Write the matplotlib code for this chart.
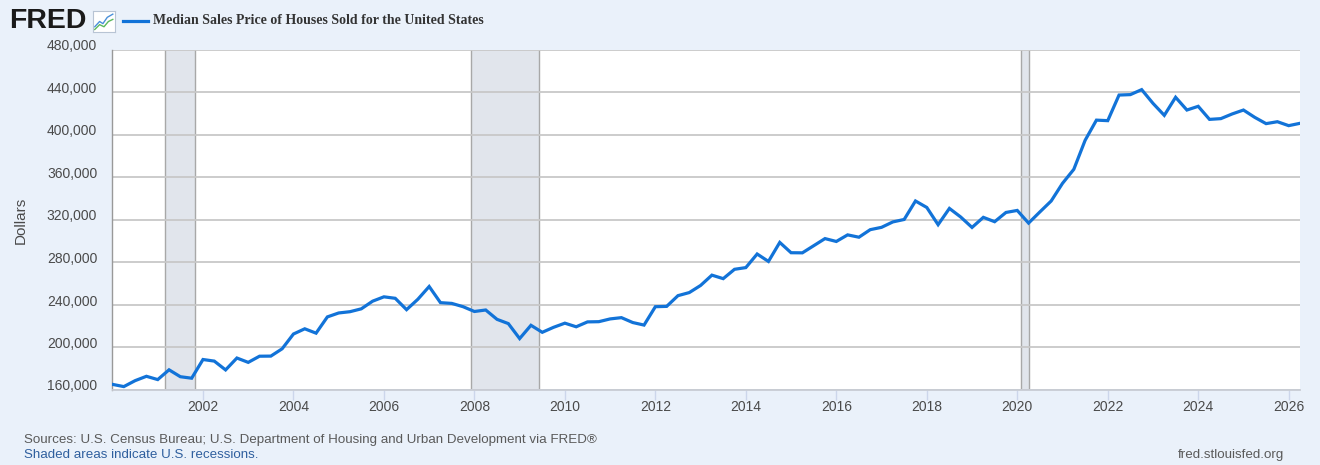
import matplotlib
matplotlib.use("Agg")
import matplotlib.pyplot as plt
import matplotlib.transforms as mtransforms
from matplotlib.lines import Line2D
import numpy as np

# ---------------- data ----------------
start_year = 2000
values = [
    165300, 163200, 168800, 172900,   # 2000
    169800, 179000, 172500, 171100,   # 2001
    188700, 187200, 178900, 190100,   # 2002
    186000, 191800, 191900, 198800,   # 2003
    212700, 217600, 213500, 228800,   # 2004
    232500, 233700, 236400, 243600,   # 2005
    247700, 246300, 235600, 245400,   # 2006
    257400, 242200, 241500, 238400,   # 2007
    233900, 235300, 226500, 222500,   # 2008
    208400, 220900, 214300, 219000,   # 2009
    222900, 219500, 224100, 224300,   # 2010
    226900, 228100, 223500, 221100,   # 2011
    238400, 238700, 248800, 251700,   # 2012
    258400, 268100, 264800, 273600,   # 2013
    275200, 288000, 281000, 298900,   # 2014
    289200, 289100, 295800, 302500,   # 2015
    299800, 306000, 303800, 310900,   # 2016
    313100, 318200, 320500, 337900,   # 2017
    331800, 315600, 330900, 322800,   # 2018
    313000, 322500, 318400, 327100,   # 2019
    329000, 317100, 327600, 337900,   # 2020
    354500, 367700, 395000, 414000,   # 2021
    413500, 437600, 438000, 442700,   # 2022
    429800, 418500, 435500, 423500,   # 2023
    427000, 414700, 415400, 419800,   # 2024
    423500, 416600, 410700, 412500,   # 2025
    408800, 411000,                   # 2026
]
recessions = [(2001.17, 2001.83), (2007.92, 2009.42), (2020.08, 2020.25)]
y_ticks = [160000, 200000, 240000, 280000, 320000, 360000, 400000, 440000, 480000]
x_ticks = [2002, 2004, 2006, 2008, 2010, 2012, 2014, 2016, 2018, 2020, 2022, 2024, 2026]

dates = start_year + np.arange(len(values)) / 4.0

# ---------------- style ----------------
BG = "#eaf1fa"
LINE = "#1273d8"
GRID = "#c8c8c8"
TXT = "#4a4a4a"

fig = plt.figure(figsize=(13.2, 4.65), dpi=100, facecolor=BG)
W, H = 1320, 465
ax = fig.add_axes([112.5 / W, 1 - 390 / H, (1300 - 112.5) / W, 340 / H])
ax.set_facecolor("white")

for a, b in recessions:
    ax.axvspan(a, b, color="#e1e5ec", zorder=1, lw=0)
    ax.axvline(a, color="#a8a8a8", lw=1.0, zorder=1.5)
    ax.axvline(b, color="#a8a8a8", lw=1.0, zorder=1.5)

ax.plot(dates, values, color=LINE, lw=2.3, zorder=3, solid_joinstyle="miter")

ax.set_xlim(2000.0, 2026.25)
ax.set_ylim(160000, 480000)
ax.set_yticks(y_ticks)
ax.set_yticklabels([f"{v:,}" for v in y_ticks])
ax.set_xticks(x_ticks)
ax.set_xticklabels([str(v) for v in x_ticks])

ax.grid(axis="y", color=GRID, lw=1.3, zorder=2)
for sp in ["top", "right"]:
    ax.spines[sp].set_visible(False)
ax.spines["left"].set_color("#999999")
ax.spines["left"].set_linewidth(1.0)
ax.spines["bottom"].set_color("#c8ccd4")
ax.spines["bottom"].set_linewidth(1.3)

ax.tick_params(axis="y", length=0, pad=11, labelsize=10, labelcolor=TXT)
ax.tick_params(axis="x", length=7, width=1, color="#ccd6eb", pad=0, labelsize=10, labelcolor=TXT)

offset = mtransforms.ScaledTranslation(0, 5 / 100, fig.dpi_scale_trans)
for lab in ax.get_yticklabels():
    lab.set_transform(lab.get_transform() + offset)
    lab.set_fontfamily("Liberation Sans")
for lab in ax.get_xticklabels():
    lab.set_fontfamily("Liberation Sans")

fig.text(21 / W, 1 - 220 / H, "Dollars", rotation=90, ha="center", va="center",
         fontsize=11, color=TXT, family="Liberation Sans")

# ---------------- header ----------------
fig.text(9 / W, 1 - 21.5 / H, "FRED", ha="left", va="center", fontsize=20.5,
         fontweight="black", color="#1a1a1a", family="Liberation Sans")
icon = fig.add_axes([93 / W, 1 - 32 / H, 22 / W, 21 / H])
icon.set_xlim(0, 1)
icon.set_ylim(0, 1)
icon.set_xticks([])
icon.set_yticks([])
icon.set_facecolor("white")
for sp in icon.spines.values():
    sp.set_color("#b8c4d4")
    sp.set_linewidth(0.8)
icon.plot([0.08, 0.3, 0.45, 0.65, 0.9], [0.25, 0.5, 0.4, 0.7, 0.85], color="#4a90d9", lw=1.0)
icon.plot([0.08, 0.3, 0.5, 0.7, 0.9], [0.12, 0.35, 0.25, 0.5, 0.6], color="#5cb85c", lw=1.0)

fig.add_artist(Line2D([123 / W, 148 / W], [1 - 21 / H, 1 - 21 / H], color=LINE, lw=2.3))
fig.text(153 / W, 1 - 21 / H, "Median Sales Price of Houses Sold for the United States",
         ha="left", va="center", fontsize=10, fontweight="bold", color="#333333",
         family="Liberation Serif")

# ---------------- footer ----------------
fig.text(24 / W, 1 - 440 / H,
         "Sources: U.S. Census Bureau; U.S. Department of Housing and Urban Development via FRED\u00ae",
         ha="left", va="center", fontsize=9.6, color="#5a5a5a", family="Liberation Sans")
fig.text(24 / W, 1 - 455 / H, "Shaded areas indicate U.S. recessions.",
         ha="left", va="center", fontsize=9.6, color="#2f5f9e", family="Liberation Sans")
fig.text(1284 / W, 1 - 455 / H, "fred.stlouisfed.org", ha="right", va="center",
         fontsize=9.6, color="#5a5a5a", family="Liberation Sans")

fig.savefig("out.png", dpi=100, facecolor=BG)
